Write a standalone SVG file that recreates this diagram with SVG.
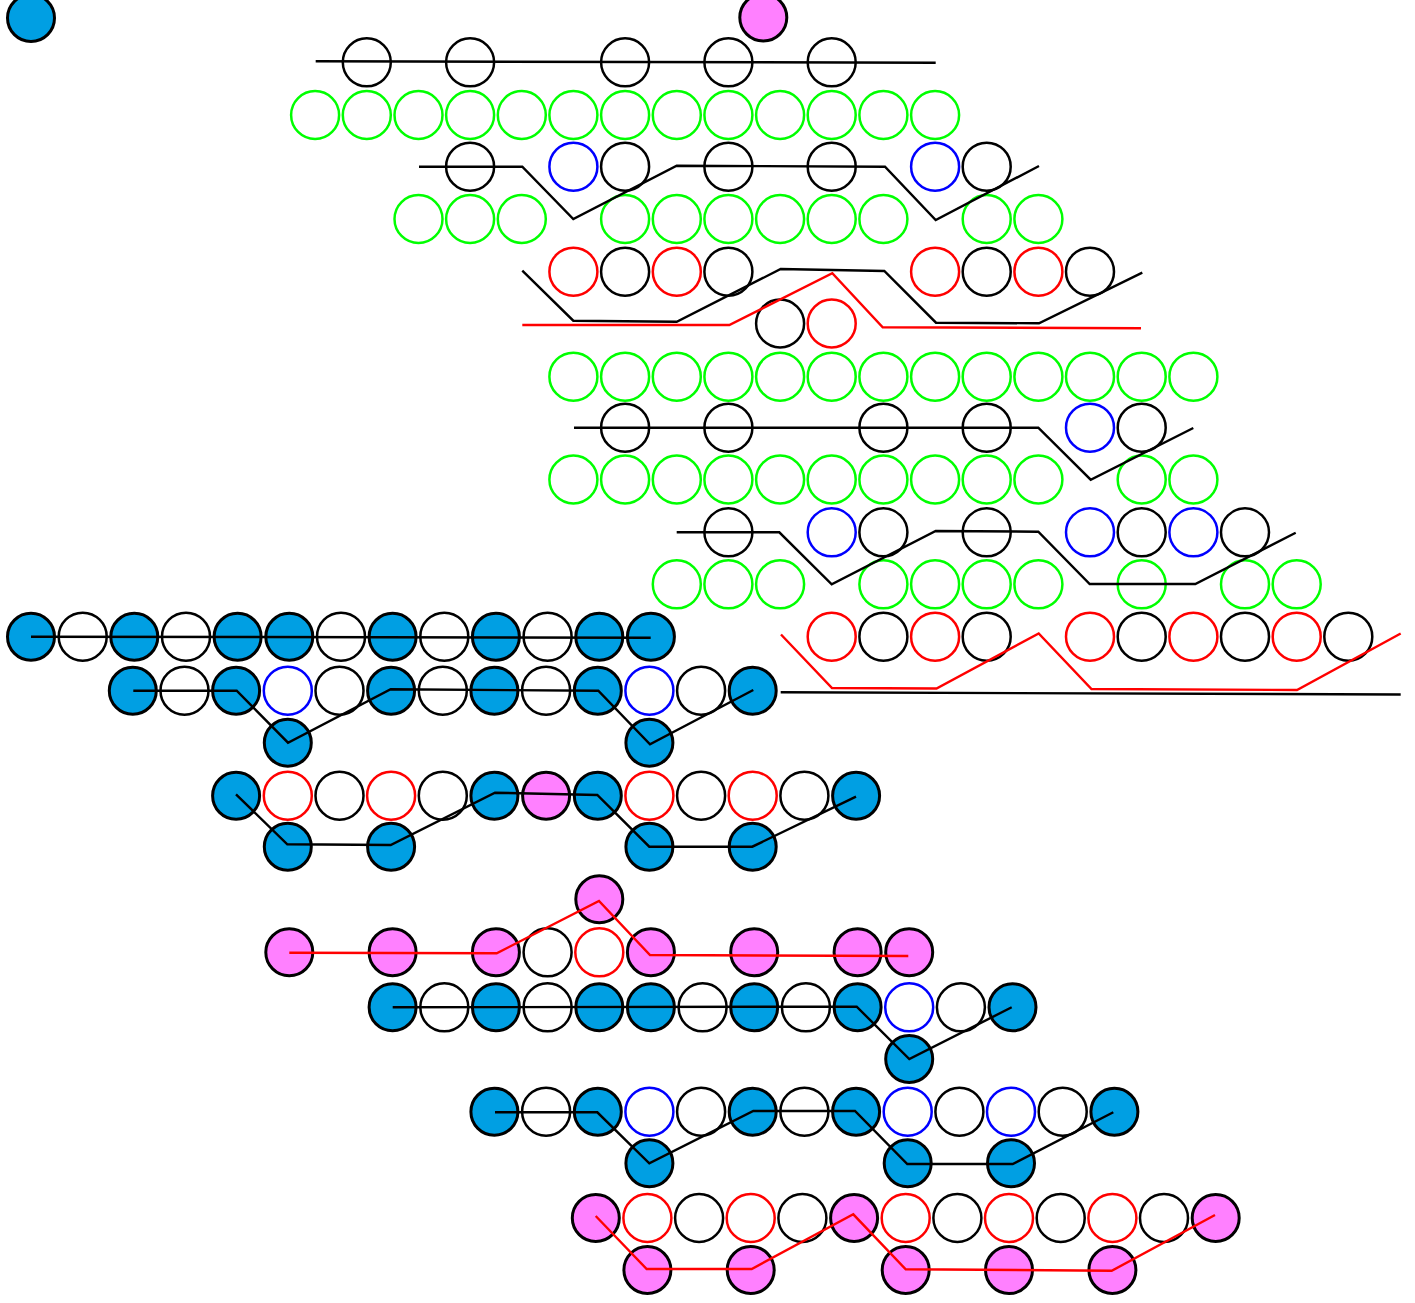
<svg xmlns="http://www.w3.org/2000/svg" width="1415" height="1303" viewBox="0 0 1415 1303">
<style>
.B{fill:#009FE3;stroke:#000;stroke-width:3}
.P{fill:#FF80FF;stroke:#000;stroke-width:3}
.W{fill:none;stroke:#000;stroke-width:2.5}
.G{fill:none;stroke:#00FF00;stroke-width:2.5}
.U{fill:none;stroke:#0000FF;stroke-width:2.5}
.R{fill:none;stroke:#FF0000;stroke-width:2.5}
.k{fill:none;stroke:#000;stroke-width:2.4;stroke-linejoin:miter}
.rl{fill:none;stroke:#FF0000;stroke-width:2.4;stroke-linejoin:miter}
</style>
<rect width="1415" height="1303" fill="#fff"/>
<g id="nodes">
<g id="n0a"><circle class="B" cx="31" cy="18" r="23.5"/></g>
<g id="n0b"><circle class="P" cx="763.3" cy="17.5" r="23.5"/></g>
<!-- row 1 -->
<g id="n1a"><circle class="W" cx="366.8" cy="62.3" r="24"/></g>
<g id="n1b"><circle class="W" cx="470.1" cy="62.3" r="24"/></g>
<g id="n1c"><circle class="W" cx="625.1" cy="62.3" r="24"/></g>
<g id="n1d"><circle class="W" cx="728.4" cy="62.3" r="24"/></g>
<g id="n1e"><circle class="W" cx="831.7" cy="62.3" r="24"/></g>
<!-- row 2 -->
<g id="n2a"><circle class="G" cx="315.1" cy="115" r="24"/></g>
<g id="n2b"><circle class="G" cx="366.8" cy="115" r="24"/></g>
<g id="n2c"><circle class="G" cx="418.5" cy="115" r="24"/></g>
<g id="n2d"><circle class="G" cx="470.1" cy="115" r="24"/></g>
<g id="n2e"><circle class="G" cx="521.8" cy="115" r="24"/></g>
<g id="n2f"><circle class="G" cx="573.4" cy="115" r="24"/></g>
<g id="n2g"><circle class="G" cx="625.1" cy="115" r="24"/></g>
<g id="n2h"><circle class="G" cx="676.8" cy="115" r="24"/></g>
<g id="n2i"><circle class="G" cx="728.4" cy="115" r="24"/></g>
<g id="n2j"><circle class="G" cx="780.1" cy="115" r="24"/></g>
<g id="n2k"><circle class="G" cx="831.7" cy="115" r="24"/></g>
<g id="n2l"><circle class="G" cx="883.4" cy="115" r="24"/></g>
<g id="n2m"><circle class="G" cx="935.1" cy="115" r="24"/></g>
<!-- row 3 -->
<g id="n3a"><circle class="W" cx="470.1" cy="166.7" r="24"/></g>
<g id="n3b"><circle class="U" cx="573.4" cy="166.7" r="24"/></g>
<g id="n3c"><circle class="W" cx="625.1" cy="166.7" r="24"/></g>
<g id="n3d"><circle class="W" cx="728.4" cy="166.7" r="24"/></g>
<g id="n3e"><circle class="W" cx="831.7" cy="166.7" r="24"/></g>
<g id="n3f"><circle class="U" cx="935.1" cy="166.7" r="24"/></g>
<g id="n3g"><circle class="W" cx="986.7" cy="166.7" r="24"/></g>
<!-- row 4 -->
<g id="n4a"><circle class="G" cx="418.5" cy="219" r="24"/></g>
<g id="n4b"><circle class="G" cx="470.1" cy="219" r="24"/></g>
<g id="n4c"><circle class="G" cx="521.8" cy="219" r="24"/></g>
<g id="n4d"><circle class="G" cx="625.1" cy="219" r="24"/></g>
<g id="n4e"><circle class="G" cx="676.8" cy="219" r="24"/></g>
<g id="n4f"><circle class="G" cx="728.4" cy="219" r="24"/></g>
<g id="n4g"><circle class="G" cx="780.1" cy="219" r="24"/></g>
<g id="n4h"><circle class="G" cx="831.7" cy="219" r="24"/></g>
<g id="n4i"><circle class="G" cx="883.4" cy="219" r="24"/></g>
<g id="n4j"><circle class="G" cx="986.7" cy="219" r="24"/></g>
<g id="n4k"><circle class="G" cx="1038.4" cy="219" r="24"/></g>
<!-- row 5 -->
<g id="n5a"><circle class="R" cx="573.4" cy="271.7" r="24"/></g>
<g id="n5b"><circle class="W" cx="625.1" cy="271.7" r="24"/></g>
<g id="n5c"><circle class="R" cx="676.8" cy="271.7" r="24"/></g>
<g id="n5d"><circle class="W" cx="728.4" cy="271.7" r="24"/></g>
<g id="n5e"><circle class="R" cx="935.1" cy="271.7" r="24"/></g>
<g id="n5f"><circle class="W" cx="986.7" cy="271.7" r="24"/></g>
<g id="n5g"><circle class="R" cx="1038.4" cy="271.7" r="24"/></g>
<g id="n5h"><circle class="W" cx="1090" cy="271.7" r="24"/></g>
<!-- row 6 -->
<g id="n6a"><circle class="W" cx="780.1" cy="323.5" r="24"/></g>
<g id="n6b"><circle class="R" cx="831.7" cy="323.5" r="24"/></g>
<!-- row 7 -->
<g id="n7a"><circle class="G" cx="573.4" cy="376.7" r="24"/></g>
<g id="n7b"><circle class="G" cx="625.1" cy="376.7" r="24"/></g>
<g id="n7c"><circle class="G" cx="676.8" cy="376.7" r="24"/></g>
<g id="n7d"><circle class="G" cx="728.4" cy="376.7" r="24"/></g>
<g id="n7e"><circle class="G" cx="780.1" cy="376.7" r="24"/></g>
<g id="n7f"><circle class="G" cx="831.7" cy="376.7" r="24"/></g>
<g id="n7g"><circle class="G" cx="883.4" cy="376.7" r="24"/></g>
<g id="n7h"><circle class="G" cx="935.1" cy="376.7" r="24"/></g>
<g id="n7i"><circle class="G" cx="986.7" cy="376.7" r="24"/></g>
<g id="n7j"><circle class="G" cx="1038.4" cy="376.7" r="24"/></g>
<g id="n7k"><circle class="G" cx="1090" cy="376.7" r="24"/></g>
<g id="n7l"><circle class="G" cx="1141.7" cy="376.7" r="24"/></g>
<g id="n7m"><circle class="G" cx="1193.4" cy="376.7" r="24"/></g>
<!-- row 8 -->
<g id="n8a"><circle class="W" cx="625.1" cy="427.7" r="24"/></g>
<g id="n8b"><circle class="W" cx="728.4" cy="427.7" r="24"/></g>
<g id="n8c"><circle class="W" cx="883.4" cy="427.7" r="24"/></g>
<g id="n8d"><circle class="W" cx="986.7" cy="427.7" r="24"/></g>
<g id="n8e"><circle class="U" cx="1090" cy="427.7" r="24"/></g>
<g id="n8f"><circle class="W" cx="1141.7" cy="427.7" r="24"/></g>
<!-- row 9 -->
<g id="n9a"><circle class="G" cx="573.4" cy="479.5" r="24"/></g>
<g id="n9b"><circle class="G" cx="625.1" cy="479.5" r="24"/></g>
<g id="n9c"><circle class="G" cx="676.8" cy="479.5" r="24"/></g>
<g id="n9d"><circle class="G" cx="728.4" cy="479.5" r="24"/></g>
<g id="n9e"><circle class="G" cx="780.1" cy="479.5" r="24"/></g>
<g id="n9f"><circle class="G" cx="831.7" cy="479.5" r="24"/></g>
<g id="n9g"><circle class="G" cx="883.4" cy="479.5" r="24"/></g>
<g id="n9h"><circle class="G" cx="935.1" cy="479.5" r="24"/></g>
<g id="n9i"><circle class="G" cx="986.7" cy="479.5" r="24"/></g>
<g id="n9j"><circle class="G" cx="1038.4" cy="479.5" r="24"/></g>
<g id="n9k"><circle class="G" cx="1141.7" cy="479.5" r="24"/></g>
<g id="n9l"><circle class="G" cx="1193.4" cy="479.5" r="24"/></g>
<!-- row 10 -->
<g id="n10a"><circle class="W" cx="728.4" cy="532.3" r="24"/></g>
<g id="n10b"><circle class="U" cx="831.7" cy="532.3" r="24"/></g>
<g id="n10c"><circle class="W" cx="883.4" cy="532.3" r="24"/></g>
<g id="n10d"><circle class="W" cx="986.7" cy="532.3" r="24"/></g>
<g id="n10e"><circle class="U" cx="1090" cy="532.3" r="24"/></g>
<g id="n10f"><circle class="W" cx="1141.7" cy="532.3" r="24"/></g>
<g id="n10g"><circle class="U" cx="1193.4" cy="532.3" r="24"/></g>
<g id="n10h"><circle class="W" cx="1245" cy="532.3" r="24"/></g>
<!-- row 11 -->
<g id="n11a"><circle class="G" cx="676.8" cy="584.3" r="24"/></g>
<g id="n11b"><circle class="G" cx="728.4" cy="584.3" r="24"/></g>
<g id="n11c"><circle class="G" cx="780.1" cy="584.3" r="24"/></g>
<g id="n11d"><circle class="G" cx="883.4" cy="584.3" r="24"/></g>
<g id="n11e"><circle class="G" cx="935.1" cy="584.3" r="24"/></g>
<g id="n11f"><circle class="G" cx="986.7" cy="584.3" r="24"/></g>
<g id="n11g"><circle class="G" cx="1038.4" cy="584.3" r="24"/></g>
<g id="n11h"><circle class="G" cx="1141.7" cy="584.3" r="24"/></g>
<g id="n11i"><circle class="G" cx="1245" cy="584.3" r="24"/></g>
<g id="n11j"><circle class="G" cx="1296.7" cy="584.3" r="24"/></g>
<!-- row 12 -->
<g id="n12a"><circle class="B" cx="31" cy="636.7" r="23.5"/></g>
<g id="n12b"><circle class="W" cx="82.7" cy="636.7" r="24"/></g>
<g id="n12c"><circle class="B" cx="134.3" cy="636.7" r="23.5"/></g>
<g id="n12d"><circle class="W" cx="186" cy="636.7" r="24"/></g>
<g id="n12e"><circle class="B" cx="237.6" cy="636.7" r="23.5"/></g>
<g id="n12f"><circle class="B" cx="289.3" cy="636.7" r="23.5"/></g>
<g id="n12g"><circle class="W" cx="341" cy="636.7" r="24"/></g>
<g id="n12h"><circle class="B" cx="392.6" cy="636.7" r="23.5"/></g>
<g id="n12i"><circle class="W" cx="444.3" cy="636.7" r="24"/></g>
<g id="n12j"><circle class="B" cx="495.9" cy="636.7" r="23.5"/></g>
<g id="n12k"><circle class="W" cx="547.6" cy="636.7" r="24"/></g>
<g id="n12l"><circle class="B" cx="599.3" cy="636.7" r="23.5"/></g>
<g id="n12m"><circle class="B" cx="650.9" cy="636.7" r="23.5"/></g>
<g id="n12n"><circle class="R" cx="831.7" cy="636.7" r="24"/></g>
<g id="n12o"><circle class="W" cx="883.4" cy="636.7" r="24"/></g>
<g id="n12p"><circle class="R" cx="935.1" cy="636.7" r="24"/></g>
<g id="n12q"><circle class="W" cx="986.7" cy="636.7" r="24"/></g>
<g id="n12r"><circle class="R" cx="1090" cy="636.7" r="24"/></g>
<g id="n12s"><circle class="W" cx="1141.7" cy="636.7" r="24"/></g>
<g id="n12t"><circle class="R" cx="1193.4" cy="636.7" r="24"/></g>
<g id="n12u"><circle class="W" cx="1245" cy="636.7" r="24"/></g>
<g id="n12v"><circle class="R" cx="1296.7" cy="636.7" r="24"/></g>
<g id="n12w"><circle class="W" cx="1348.3" cy="636.7" r="24"/></g>
<!-- row 13 -->
<g id="n13a"><circle class="B" cx="132.8" cy="690.7" r="23.5"/></g>
<g id="n13b"><circle class="W" cx="184.5" cy="690.7" r="24"/></g>
<g id="n13c"><circle class="B" cx="236.1" cy="690.7" r="23.5"/></g>
<g id="n13d"><circle class="U" cx="287.8" cy="690.7" r="24"/></g>
<g id="n13e"><circle class="W" cx="339.5" cy="690.7" r="24"/></g>
<g id="n13f"><circle class="B" cx="391.1" cy="690.7" r="23.5"/></g>
<g id="n13g"><circle class="W" cx="442.8" cy="690.7" r="24"/></g>
<g id="n13h"><circle class="B" cx="494.4" cy="690.7" r="23.5"/></g>
<g id="n13i"><circle class="W" cx="546.1" cy="690.7" r="24"/></g>
<g id="n13j"><circle class="B" cx="597.8" cy="690.7" r="23.5"/></g>
<g id="n13k"><circle class="U" cx="649.4" cy="690.7" r="24"/></g>
<g id="n13l"><circle class="W" cx="701.1" cy="690.7" r="24"/></g>
<g id="n13m"><circle class="B" cx="752.7" cy="690.7" r="23.5"/></g>
<!-- row 14 -->
<g id="n14a"><circle class="B" cx="287.8" cy="742.7" r="23.5"/></g>
<g id="n14b"><circle class="B" cx="649.4" cy="742.7" r="23.5"/></g>
<!-- row 15 -->
<g id="n15a"><circle class="B" cx="236.1" cy="795.7" r="23.5"/></g>
<g id="n15b"><circle class="R" cx="287.8" cy="795.7" r="24"/></g>
<g id="n15c"><circle class="W" cx="339.5" cy="795.7" r="24"/></g>
<g id="n15d"><circle class="R" cx="391.1" cy="795.7" r="24"/></g>
<g id="n15e"><circle class="W" cx="442.8" cy="795.7" r="24"/></g>
<g id="n15f"><circle class="B" cx="494.4" cy="795.7" r="23.5"/></g>
<g id="n15g"><circle class="P" cx="546.1" cy="795.7" r="23.5"/></g>
<g id="n15h"><circle class="B" cx="597.8" cy="795.7" r="23.5"/></g>
<g id="n15i"><circle class="R" cx="649.4" cy="795.7" r="24"/></g>
<g id="n15j"><circle class="W" cx="701.1" cy="795.7" r="24"/></g>
<g id="n15k"><circle class="R" cx="752.7" cy="795.7" r="24"/></g>
<g id="n15l"><circle class="W" cx="804.4" cy="795.7" r="24"/></g>
<g id="n15m"><circle class="B" cx="856.1" cy="795.7" r="23.5"/></g>
<!-- row 16 -->
<g id="n16a"><circle class="B" cx="287.8" cy="846.7" r="23.5"/></g>
<g id="n16b"><circle class="B" cx="391.1" cy="846.7" r="23.5"/></g>
<g id="n16c"><circle class="B" cx="649.4" cy="846.7" r="23.5"/></g>
<g id="n16d"><circle class="B" cx="752.7" cy="846.7" r="23.5"/></g>
<!-- row 17 -->
<g id="n17a"><circle class="P" cx="599.3" cy="899.3" r="23.5"/></g>
<!-- row 18 -->
<g id="n18a"><circle class="P" cx="289.3" cy="952.3" r="23.5"/></g>
<g id="n18b"><circle class="P" cx="392.6" cy="952.3" r="23.5"/></g>
<g id="n18c"><circle class="P" cx="495.9" cy="952.3" r="23.5"/></g>
<g id="n18d"><circle class="W" cx="547.6" cy="952.3" r="24"/></g>
<g id="n18e"><circle class="R" cx="599.3" cy="952.3" r="24"/></g>
<g id="n18f"><circle class="P" cx="650.9" cy="952.3" r="23.5"/></g>
<g id="n18g"><circle class="P" cx="754.2" cy="952.3" r="23.5"/></g>
<g id="n18h"><circle class="P" cx="857.6" cy="952.3" r="23.5"/></g>
<g id="n18i"><circle class="P" cx="909.2" cy="952.3" r="23.5"/></g>
<!-- row 19 -->
<g id="n19a"><circle class="B" cx="392.6" cy="1007.3" r="23.5"/></g>
<g id="n19b"><circle class="W" cx="444.3" cy="1007.3" r="24"/></g>
<g id="n19c"><circle class="B" cx="495.9" cy="1007.3" r="23.5"/></g>
<g id="n19d"><circle class="W" cx="547.6" cy="1007.3" r="24"/></g>
<g id="n19e"><circle class="B" cx="599.3" cy="1007.3" r="23.5"/></g>
<g id="n19f"><circle class="B" cx="650.9" cy="1007.3" r="23.5"/></g>
<g id="n19g"><circle class="W" cx="702.6" cy="1007.3" r="24"/></g>
<g id="n19h"><circle class="B" cx="754.2" cy="1007.3" r="23.5"/></g>
<g id="n19i"><circle class="W" cx="805.9" cy="1007.3" r="24"/></g>
<g id="n19j"><circle class="B" cx="857.6" cy="1007.3" r="23.5"/></g>
<g id="n19k"><circle class="U" cx="909.2" cy="1007.3" r="24"/></g>
<g id="n19l"><circle class="W" cx="960.9" cy="1007.3" r="24"/></g>
<g id="n19m"><circle class="B" cx="1012.5" cy="1007.3" r="23.5"/></g>
<!-- row 20 -->
<g id="n20a"><circle class="B" cx="909.2" cy="1059" r="23.5"/></g>
<!-- row 21 -->
<g id="n21a"><circle class="B" cx="494.4" cy="1111.7" r="23.5"/></g>
<g id="n21b"><circle class="W" cx="546.1" cy="1111.7" r="24"/></g>
<g id="n21c"><circle class="B" cx="597.8" cy="1111.7" r="23.5"/></g>
<g id="n21d"><circle class="U" cx="649.4" cy="1111.7" r="24"/></g>
<g id="n21e"><circle class="W" cx="701.1" cy="1111.7" r="24"/></g>
<g id="n21f"><circle class="B" cx="752.7" cy="1111.7" r="23.5"/></g>
<g id="n21g"><circle class="W" cx="804.4" cy="1111.7" r="24"/></g>
<g id="n21h"><circle class="B" cx="856.1" cy="1111.7" r="23.5"/></g>
<g id="n21i"><circle class="U" cx="907.7" cy="1111.7" r="24"/></g>
<g id="n21j"><circle class="W" cx="959.4" cy="1111.7" r="24"/></g>
<g id="n21k"><circle class="U" cx="1011" cy="1111.7" r="24"/></g>
<g id="n21l"><circle class="W" cx="1062.7" cy="1111.7" r="24"/></g>
<g id="n21m"><circle class="B" cx="1114.4" cy="1111.7" r="23.5"/></g>
<!-- row 22 -->
<g id="n22a"><circle class="B" cx="649.4" cy="1163.3" r="23.5"/></g>
<g id="n22b"><circle class="B" cx="907.7" cy="1163.3" r="23.5"/></g>
<g id="n22c"><circle class="B" cx="1011" cy="1163.3" r="23.5"/></g>
<!-- row 23 -->
<g id="n23a"><circle class="P" cx="595.8" cy="1218" r="23.5"/></g>
<g id="n23b"><circle class="R" cx="647.4" cy="1218" r="24"/></g>
<g id="n23c"><circle class="W" cx="699.1" cy="1218" r="24"/></g>
<g id="n23d"><circle class="R" cx="750.7" cy="1218" r="24"/></g>
<g id="n23e"><circle class="W" cx="802.4" cy="1218" r="24"/></g>
<g id="n23f"><circle class="P" cx="854.1" cy="1218" r="23.5"/></g>
<g id="n23g"><circle class="R" cx="905.7" cy="1218" r="24"/></g>
<g id="n23h"><circle class="W" cx="957.4" cy="1218" r="24"/></g>
<g id="n23i"><circle class="R" cx="1009" cy="1218" r="24"/></g>
<g id="n23j"><circle class="W" cx="1060.7" cy="1218" r="24"/></g>
<g id="n23k"><circle class="R" cx="1112.4" cy="1218" r="24"/></g>
<g id="n23l"><circle class="W" cx="1164" cy="1218" r="24"/></g>
<g id="n23m"><circle class="P" cx="1215.7" cy="1218" r="23.5"/></g>
<!-- row 24 -->
<g id="n24a"><circle class="P" cx="647.4" cy="1270" r="23.5"/></g>
<g id="n24b"><circle class="P" cx="750.7" cy="1270" r="23.5"/></g>
<g id="n24c"><circle class="P" cx="905.7" cy="1270" r="23.5"/></g>
<g id="n24d"><circle class="P" cx="1009" cy="1270" r="23.5"/></g>
<g id="n24e"><circle class="P" cx="1112.4" cy="1270" r="23.5"/></g>
</g>
<g id="connectors">
<polyline class="k" points="315.7,61.3 935.7,62.7"/>
<polyline class="k" points="419,166.7 522.3,166.7 573.3,219 676.7,165.7 885,166.7 935.7,220 1039,166"/>
<polyline class="k" points="522.3,270.7 573.3,320.7 676.7,321.7 780.7,269 884.3,271 936,322.7 1039,323.3 1142.3,272.7"/>
<polyline class="rl" points="522.3,325 729.3,325 832.3,273.3 882.7,327.3 1141,328.3"/>
<polyline class="k" points="574,427.7 1038.3,427.7 1090.7,479.7 1193.3,428"/>
<polyline class="k" points="676.7,532.3 779.3,532.3 831.7,584.3 935.7,531 1038.3,531.7 1089.7,584 1195.3,584 1295.7,532.7"/>
<polyline class="k" points="31,636.7 650.7,637.7"/>
<polyline class="rl" points="781,634.5 832,688 936.5,688.5 1038.7,633.5 1091.5,689 1297,690 1400.7,633.5"/>
<polyline class="k" points="133.3,690.7 236.7,690.7 288,742.7 390.7,689.3 598.3,690.7 650,744.3 753.3,690"/>
<polyline class="k" points="780.7,692.3 1400.7,694.5"/>
<polyline class="k" points="236,794.3 287.3,844.3 390.7,845 495,792.7 597.3,795 649.3,846.7 752.3,846.7 856,796.7"/>
<polyline class="rl" points="289.3,952.7 496.7,953.3 599,901 650,955 908.3,956"/>
<polyline class="k" points="392.7,1007.3 856.7,1006.7 909.3,1059 1011.7,1007.3"/>
<polyline class="k" points="495,1112.3 597.3,1112.3 649.3,1163.3 753.3,1111 855,1111 907.3,1164 1012.7,1164 1113.3,1112.3"/>
<polyline class="rl" points="595.7,1216 646.7,1269 751.7,1269 853.3,1214.3 905.7,1269.3 1111.7,1270.7 1215,1215"/>
</g>
</svg>
